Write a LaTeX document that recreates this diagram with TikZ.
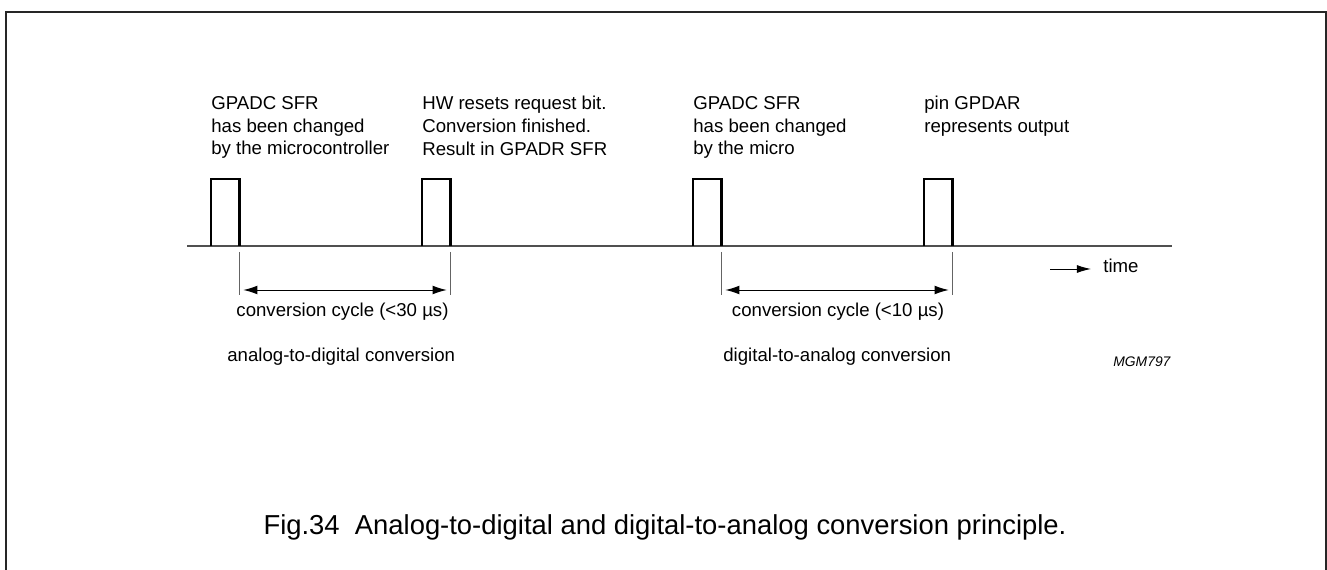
\documentclass[tikz,border=0pt]{standalone}
\usepackage{fontspec}
\setmainfont{Liberation Sans}
\usetikzlibrary{arrows.meta,positioning}
\definecolor{axisgray}{RGB}{80,80,80}
\definecolor{tickgray}{RGB}{100,100,100}
\tikzset{
  pulse/.style={line width=1.25pt, black},
  tickline/.style={tickgray, line width=0.55pt},
  cyclearrow/.style={{Latex[length=8pt,width=5pt]}-{Latex[length=8pt,width=5pt]}, line width=0.55pt, shorten <=2.2pt, shorten >=2.2pt},
  note/.style={font=\fontsize{10.6}{12.9}\selectfont, align=left, anchor=north west, inner sep=0pt, execute at begin node={\vphantom{Hb}}},
  label/.style={font=\fontsize{10.6}{12}\selectfont, inner sep=0pt, anchor=base}
}
\begin{document}
\begin{tikzpicture}[x=0.02cm, y=-0.02cm]
        \useasboundingbox (0,0) rectangle (1327,570);
        % Frame
        \draw[line width=1.1pt, black!85] (6,580) -- (6,12) -- (1326,12) -- (1326,580);
        % Time axis
        \coordinate (axl) at (187,246);
        \coordinate (axr) at (1172,246);
        \draw[axisgray, line width=0.95pt] (axl) -- (axr);
        % Pulses
        \foreach \x/\n in {211/a,422/b,693/c,924/d} {
          \draw[pulse] (\x,246) -- (\x,179) -- (\x+28.5,179) -- (\x+28.5,246);
          \coordinate (tk\n) at (\x+28.5,252);
          \coordinate (tb\n) at (\x+28.5,295);
          \coordinate (ar\n) at (\x+28.5,290);
        }
        % Cycle markers
        \foreach \n in {a,b,c,d} \draw[tickline] (tk\n) -- (tb\n);
        \draw[cyclearrow] (ara) -- (arb);
        \draw[cyclearrow] (arc) -- (ard);
        % Labels above the pulses
        \node[note] (adcset) at (211,96) {GPADC SFR\\has been changed\\by the microcontroller};
        \node[note] (adcdone) at (422,96) {HW resets request bit.\\Conversion finished.\\Result in GPADR SFR};
        \node[note] (dacset) at (693,96) {GPADC SFR\\has been changed\\by the micro};
        \node[note] (dacout) at (924,96) {pin GPDAR\\represents output};
        % Labels below
        \node[label] (adccyc) at (342.5,317) {conversion cycle (<30 \textmu s)};
        \node[label] (daccyc) at (838,317) {conversion cycle (<10 \textmu s)};
        \node[label, anchor=base west] (adcname) at (227,361) {analog-to-digital conversion};
        \node[label, anchor=base west] (dacname) at (723,361) {digital-to-analog conversion};
        \node[font=\fontsize{7.9}{9}\selectfont\itshape, inner sep=0pt, anchor=base west] (code) at (1113,367) {MGM797};
        % Time direction
        \node[label, anchor=base west] (time) at (1103,273) {time};
        \coordinate (tstart) at (1050,269);
        \coordinate (tend) at (1091,269);
        \draw[-{Latex[length=8pt,width=4.5pt]}, line width=0.55pt] (tstart) -- (tend);
        % Caption
        \node[font=\fontsize{15.6}{18}\selectfont, inner sep=0pt, anchor=base] (caption) at (665,534) {Fig.34\ \ Analog-to-digital and digital-to-analog conversion principle.};
      \end{tikzpicture}
\end{document}
